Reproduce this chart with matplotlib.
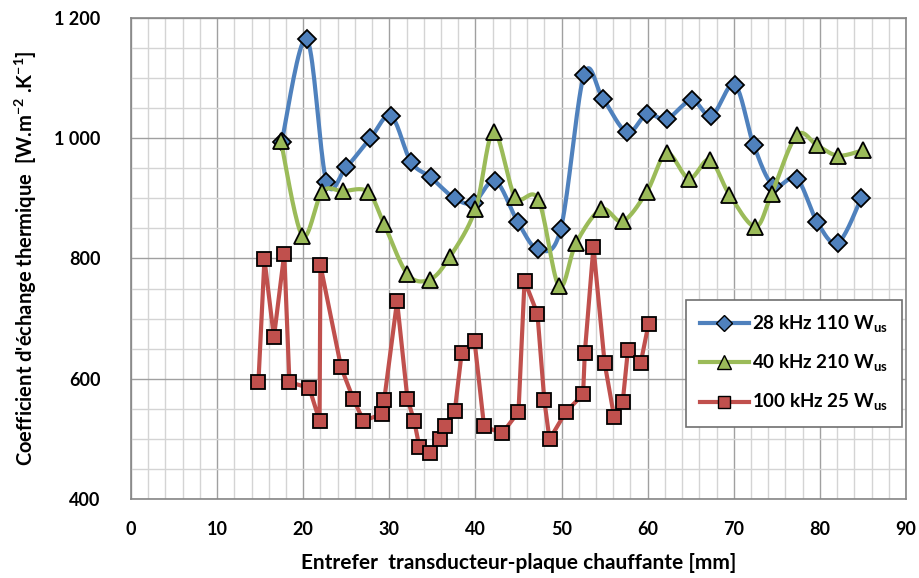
import numpy as np
import matplotlib
matplotlib.use("Agg")
from matplotlib import pyplot as plt
from matplotlib.ticker import MultipleLocator, FuncFormatter

plt.rcParams['font.family'] = ['Lato', 'DejaVu Sans']
plt.rcParams['mathtext.fontset'] = 'custom'
plt.rcParams['mathtext.rm'] = 'Lato'
plt.rcParams['mathtext.bf'] = 'Lato:bold'

# 28 kHz 110 Wus
x_28 = [17.5, 20.4, 22.7, 25.0, 27.8, 30.2, 32.5, 34.8, 37.6, 39.8, 42.3, 44.9, 47.3, 49.9,
        52.6, 54.8, 57.6, 59.9, 62.2, 65.1, 67.4, 70.1, 72.3, 74.6, 77.3, 79.7, 82.1, 84.8]
y_28 = [994, 1165, 928, 952, 1000, 1037, 961, 935, 900, 893, 929, 861, 815, 849,
        1105, 1066, 1010, 1040, 1032, 1063, 1037, 1089, 989, 921, 933, 860, 826, 900]

# 40 kHz 210 Wus
x_40 = [17.4, 19.9, 22.2, 24.6, 27.5, 29.4, 32.1, 34.7, 37.0, 40.0, 42.1, 44.6, 47.3, 49.7,
        51.7, 54.6, 57.1, 59.9, 62.2, 64.8, 67.2, 69.5, 72.5, 74.4, 77.3, 79.7, 82.1, 85.0]
y_40 = [996, 838, 911, 912, 911, 857, 774, 765, 802, 882, 1011, 903, 898, 754,
        826, 882, 862, 911, 975, 933, 964, 906, 853, 908, 1005, 988, 971, 980]

# 100 kHz 25 Wus
x_100 = [14.8, 15.5, 16.6, 17.8, 18.4, 20.7, 21.9, 22.0, 24.4, 25.8, 27.0, 29.1, 29.4, 30.9,
         32.1, 32.9, 33.5, 34.7, 35.9, 36.5, 37.6, 38.4, 39.9, 41.0, 43.1, 45.0, 45.7, 47.2,
         48.0, 48.6, 50.5, 52.5, 52.7, 53.7, 55.0, 56.1, 57.1, 57.7, 59.2, 60.1]
y_100 = [594, 799, 669, 808, 594, 585, 530, 789, 619, 567, 530, 541, 564, 729,
         567, 529, 486, 476, 500, 521, 546, 643, 662, 521, 509, 545, 763, 708,
         564, 499, 545, 574, 643, 819, 626, 537, 561, 647, 627, 691]


def smooth(x, y, n=20):
    # Catmull-Rom curve through the points (like Excel "smoothed line")
    p = np.column_stack([x, y]).astype(float)
    p = np.vstack([p[0], p, p[-1]])
    t = np.linspace(0, 1, n)[:, None]
    out = []
    for i in range(1, len(p) - 2):
        p0, p1, p2, p3 = p[i - 1], p[i], p[i + 1], p[i + 2]
        c1 = p1 + (p2 - p0) / 6
        c2 = p2 - (p3 - p1) / 6
        seg = ((1 - t) ** 3) * p1 + 3 * ((1 - t) ** 2) * t * c1 + 3 * (1 - t) * t ** 2 * c2 + t ** 3 * p2
        out.append(seg)
    s = np.vstack(out)
    return s[:, 0], s[:, 1]


blue = '#4F81BD'
green = '#9BBB59'
red = '#C0504D'

fig = plt.figure(figsize=(9.19, 5.78), dpi=100)
ax = fig.add_axes([0.1425, 0.1367, 0.8434, 0.8322])

sx, sy = smooth(x_28, y_28)
ax.plot(sx, sy, color=blue, lw=3.0, zorder=3)
ax.plot(x_28, y_28, ls='none', marker='D', ms=9.5, mfc=blue, mec='black', mew=1.3, zorder=4)

sx, sy = smooth(x_40, y_40)
ax.plot(sx, sy, color=green, lw=3.0, zorder=5)
ax.plot(x_40, y_40, ls='none', marker='^', ms=11.5, mfc=green, mec='black', mew=1.3, zorder=6)

ax.plot(x_100, y_100, color=red, lw=3.0, zorder=7)
ax.plot(x_100, y_100, ls='none', marker='s', ms=10.5, mfc=red, mec='black', mew=1.3, zorder=8)

# legend handles
h1, = ax.plot([], [], color=blue, lw=3.0, marker='D', ms=8, mfc=blue, mec='black', mew=1.0)
h2, = ax.plot([], [], color=green, lw=3.0, marker='^', ms=10, mfc=green, mec='black', mew=1.0)
h3, = ax.plot([], [], color=red, lw=3.0, marker='s', ms=9, mfc=red, mec='black', mew=1.0)
leg = ax.legend([h1, h2, h3],
                [r'28 kHz 110 W$_{\mathbf{us}}$', r'40 kHz 210 W$_{\mathbf{us}}$',
                 r'100 kHz 25 W$_{\mathbf{us}}$'],
                loc='upper left', bbox_to_anchor=(0.716, 0.414), borderaxespad=0,
                fancybox=False, framealpha=1, edgecolor='#707070',
                prop={'weight': 'bold', 'size': 13.5},
                handlelength=2.6, handletextpad=0.2, labelspacing=0.95, borderpad=0.75)
leg.get_frame().set_linewidth(1.2)
leg.set_zorder(10)

ax.set_xlim(0, 90)
ax.set_ylim(400, 1200)
ax.xaxis.set_major_locator(MultipleLocator(10))
ax.xaxis.set_minor_locator(MultipleLocator(2))
ax.yaxis.set_major_locator(MultipleLocator(200))
ax.yaxis.set_minor_locator(MultipleLocator(50))
ax.yaxis.set_major_formatter(FuncFormatter(lambda v, p: f'{int(v):,}'.replace(',', ' ')))
ax.grid(which='major', color='#a0a0a0', lw=1.0, zorder=0)
ax.grid(which='minor', color='#d4d4d4', lw=1.0, zorder=0)
ax.set_axisbelow(True)
ax.tick_params(which='both', length=0)
ax.tick_params(axis='x', pad=16, labelsize=13)
ax.tick_params(axis='y', pad=22, labelsize=13)
for lab in ax.get_xticklabels() + ax.get_yticklabels():
    lab.set_fontweight('bold')
for s in ax.spines.values():
    s.set_color('#868686')
    s.set_linewidth(1.2)

ax.set_xlabel('Entrefer  transducteur-plaque chauffante [mm]', fontsize=15, fontweight='bold', labelpad=11)
ax.set_ylabel(r"Coefficient d'échange thermique  [W.m$^{\mathbf{-2}}$ .K$^{\mathbf{-1}}$]",
              fontsize=14.5, fontweight='bold', labelpad=11)

fig.savefig('out.png', dpi=100)
